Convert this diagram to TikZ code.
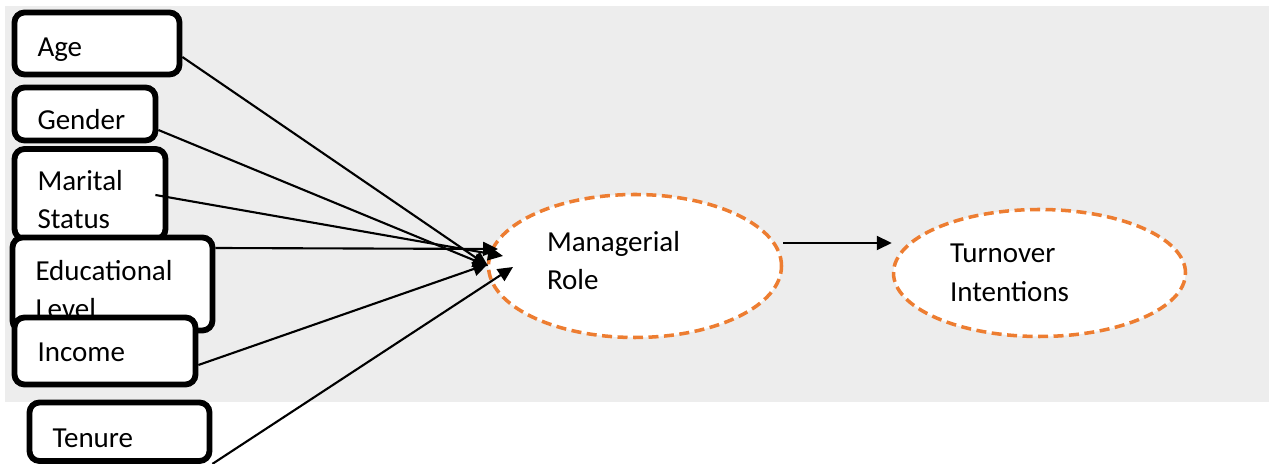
\documentclass[tikz,border=0pt]{standalone}
\usepackage{fontspec}
\setmainfont{Carlito}
\usepackage{tikz}
\usetikzlibrary{arrows.meta, positioning, shapes.geometric}
\usepackage{xcolor}
\definecolor{bgGray}{HTML}{EDEDED}
\definecolor{roleOrange}{HTML}{ED7D31}

\begin{document}
\begin{tikzpicture}[
    varBox/.style={rectangle, rounded corners=0.2cm, draw=black, line width=3.3pt, fill=white, inner xsep=0.46cm, align=left, text height=0.62cm, font=\fontsize{16.5}{21.5}\selectfont},
    roleOval/.style={ellipse, draw=roleOrange, line width=2pt, dash pattern=on 0.2cm off 0.11cm, fill=white, align=left, font=\fontsize{16.5}{22}\selectfont},
    linkArrow/.style={-{Triangle[length=0.3cm, width=0.28cm]}, black, line width=1.2pt}
]
    \useasboundingbox (0,0) rectangle (25.58,-9.28);

    % Background
    \fill[bgGray] (0.1,-0.12) rectangle (25.38,-8.04);

    % Demographic variables
    \node[varBox, minimum width=3.3cm, minimum height=1.24cm, text width=2.38cm] (age) at (1.94,-0.87) {Age};
    \node[varBox, minimum width=2.82cm, minimum height=1.06cm, text width=1.9cm] (gender) at (1.70,-2.28) {Gender};
    \node[varBox, minimum width=3.02cm, minimum height=1.8cm, text width=2.1cm] (marital) at (1.80,-3.88) {Marital\\Status};
    \node[varBox, minimum width=4.0cm, minimum height=1.86cm, text width=3.08cm] (edu) at (2.25,-5.68) {Educational\\Level};
    \node[varBox, minimum width=3.62cm, minimum height=1.34cm, text width=2.7cm, text height=0.42cm] (income) at (2.10,-7.02) {Income};
    \node[varBox, minimum width=3.6cm, minimum height=1.17cm, text width=2.68cm] (tenure) at (2.39,-8.635) {Tenure};

    % Mediator and outcome
    \node[roleOval, minimum width=5.86cm, minimum height=2.86cm, text width=3.52cm, text depth=1.0cm] (mr) at (12.70,-5.32) {Managerial\\Role};
    \node[roleOval, minimum width=5.84cm, minimum height=2.54cm, text width=3.58cm] (ti) at (20.79,-5.46) {Turnover\\Intentions};

    % Arrow tips at the left of the mediator
    \coordinate (tAge) at (9.76,-5.32);
    \coordinate (tMar) at (10.06,-5.12);
    \coordinate (tEdu) at (9.96,-4.98);
    \coordinate (tInc) at (9.76,-5.28);
    \coordinate (tTen) at (10.26,-5.34);

    % Relationships
    \draw[linkArrow] ([yshift=-0.27cm]age.east) -- (tAge);
    \draw[linkArrow] ([yshift=-0.32cm]gender.east) -- (tAge);
    \draw[linkArrow] ([xshift=-0.26cm, yshift=-0.02cm]marital.east) -- (tMar);
    \draw[linkArrow] ([yshift=0.72cm]edu.east) -- (tEdu);
    \draw[linkArrow] ([yshift=-0.28cm]income.east) -- (tInc);
    \draw[linkArrow] (tenure.south east) -- (tTen);

    \draw[linkArrow] ([yshift=0.46cm]mr.east) -- ([yshift=0.6cm]ti.west);
\end{tikzpicture}
\end{document}
